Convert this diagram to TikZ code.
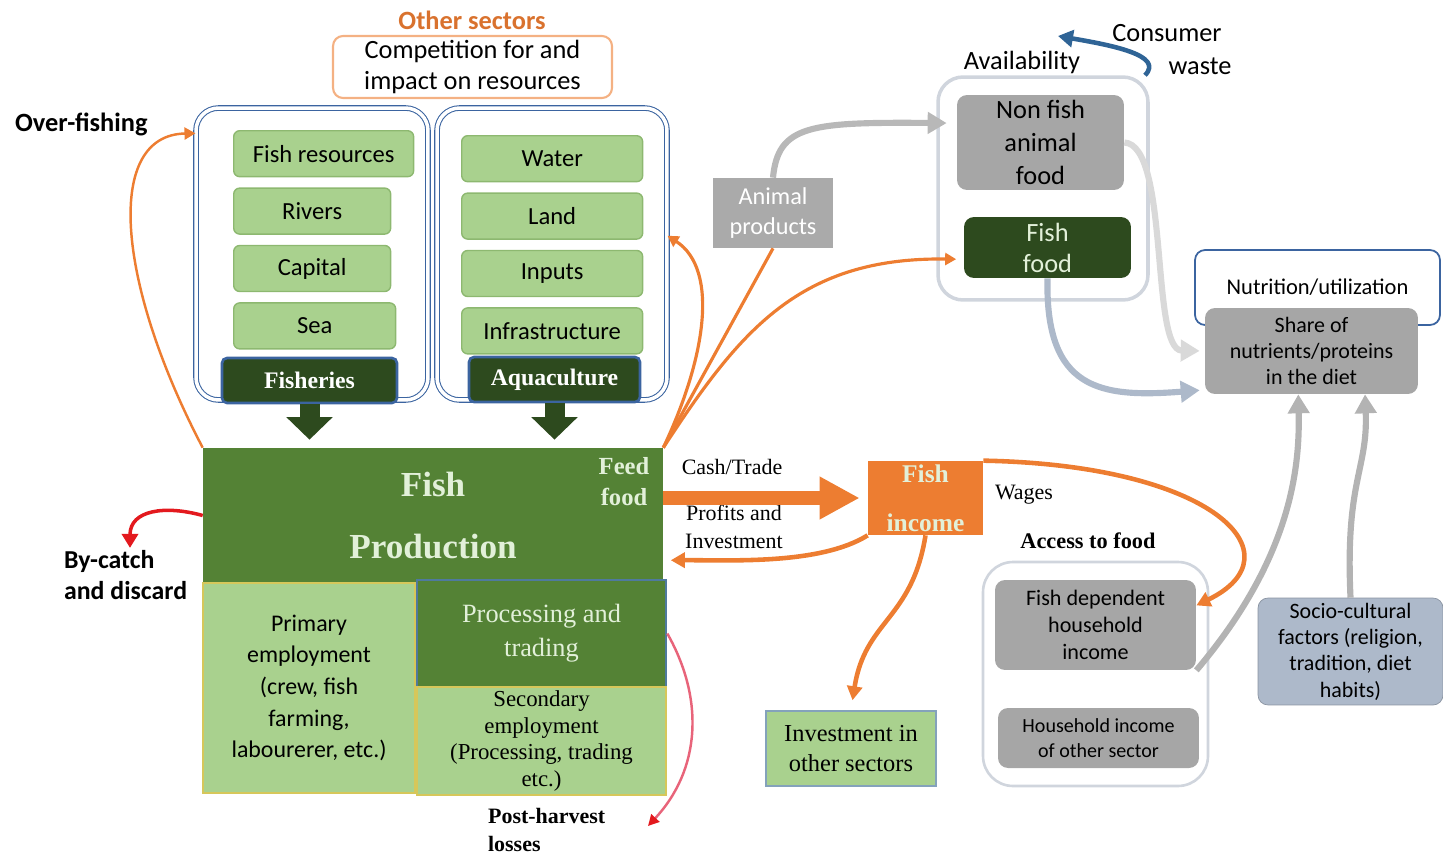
\documentclass[tikz,border=0pt]{standalone}
\usepackage{fontspec}
\setmainfont{Liberation Serif}
\setsansfont{Carlito}
\usepackage{tikz}
\usetikzlibrary{arrows.meta, positioning, calc}
\definecolor{fishlight}{HTML}{A9D18E}
\definecolor{fishline}{HTML}{8DB870}
\definecolor{fishdark}{HTML}{2D4A1E}
\definecolor{fishmid}{HTML}{548235}
\definecolor{fishblue}{HTML}{3B64A0}
\definecolor{fishorange}{HTML}{ED7D31}
\definecolor{sectororange}{HTML}{D9722E}
\definecolor{fishgray}{HTML}{A6A6A6}
\definecolor{fishpale}{HTML}{E2F0D9}
\definecolor{availgray}{HTML}{D0D5DD}
\definecolor{sociofill}{HTML}{ADB9CA}
\definecolor{fishred}{HTML}{E3191E}
\definecolor{fishpink}{HTML}{E8647A}
\definecolor{empline}{HTML}{D6C75A}
\definecolor{procline}{HTML}{4F7A9E}
\definecolor{wasteblue}{HTML}{2F6496}

\begin{document}
\begin{tikzpicture}[
    x=0.02cm, y=-0.02cm,
    res/.style={rectangle, draw=fishline, fill=fishlight, thick, rounded corners=0.12cm, minimum width=3.62cm, minimum height=0.92cm, inner sep=0pt, font=\sffamily\fontsize{14}{16}\selectfont},
    holder/.style={rectangle, draw=fishblue, double, double distance=2pt, line width=0.6pt, rounded corners=0.45cm, minimum height=5.84cm},
    sector/.style={rectangle, draw=fishblue, fill=fishdark, line width=1.5pt, rounded corners=0.1cm, minimum height=0.9cm, text=white, font=\bfseries\fontsize{13.5}{16}\selectfont},
    downarrow/.style={-{Triangle[length=0.45cm, width=0.9cm]}, line width=0.4cm, draw=fishdark, shorten >=0.16cm},
    cashtrade/.style={-{Triangle[length=0.8cm, width=0.8cm]}, line width=0.28cm, draw=fishorange, shorten >=0.16cm},
    prodbox/.style={rectangle, fill=fishmid, minimum width=9.2cm, minimum height=2.7cm, align=center, text=fishpale, font=\bfseries\fontsize{20}{35}\selectfont},
    empbox/.style={rectangle, draw=empline, fill=fishlight, line width=0.8pt, align=center, inner sep=0pt},
    procbox/.style={rectangle, draw=procline, fill=fishmid, line width=1.5pt, minimum width=4.98cm, minimum height=2.14cm, align=center, text=fishpale, font=\fontsize{15}{19.3}\selectfont},
    foodbox/.style={rectangle, fill=fishgray, rounded corners=0.2cm, align=center, inner sep=0pt},
    flow/.style={-{Triangle[length=0.28cm, width=0.3cm]}, line width=2pt, draw=fishorange},
    thinflow/.style={-{Triangle[length=0.22cm, width=0.24cm]}, line width=1.4pt, draw=fishorange},
    grayflow/.style={-{Triangle[length=0.38cm, width=0.42cm]}, line width=3.5pt, draw=#1},
    lbl/.style={inner sep=1pt, align=center, font=\fontsize{12.5}{16}\selectfont},
    sanslbl/.style={inner sep=1pt, align=center, font=\sffamily\fontsize{15}{18}\selectfont}
]
\useasboundingbox (0,0) rectangle (1443,855);

% Top: other sectors
\node[sanslbl, text=sectororange, font=\sffamily\bfseries\fontsize{15}{18}\selectfont] (othersec) at (472,20) {Other sectors};
\node[rectangle, draw=fishorange!60, line width=1.2pt, rounded corners=0.2cm, minimum width=5.58cm, minimum height=1.24cm, sanslbl] (compete) at (472.5,67) {Competition for and\\impact on resources};
\node[sanslbl, anchor=west, font=\sffamily\bfseries\fontsize{15}{18}\selectfont] (overfish) at (13,124) {Over-fishing};

% Fisheries column
\node[holder, minimum width=4.64cm] (fishcont) at (312,254) {};
\node[res, anchor=north west, minimum width=3.6cm] (fishres) at (233,130) {Fish resources};
\node[res, minimum width=3.14cm, below right=0.2cm and 0cm of fishres.south west] (rivers) {Rivers};
\node[res, minimum width=3.14cm, below right=0.2cm and 0cm of rivers.south west] (capital) {Capital};
\node[res, minimum width=3.24cm, below right=0.2cm and 0cm of capital.south west] (sea) {Sea};
\node[sector, minimum width=3.5cm] (fisheries) at (309.5,380.5) {Fisheries};

% Aquaculture column
\node[holder, minimum width=4.6cm] (aquacont) at (552,254) {};
\node[res, anchor=north west] (water) at (461,135) {Water};
\node[res, below=0.2cm of water] (land) {Land};
\node[res, below=0.2cm of land] (inputs) {Inputs};
\node[res, below=0.2cm of inputs] (infra) {Infrastructure};
\node[sector, minimum width=3.42cm] (aquaculture) at (554.5,379.5) {Aquaculture};

% Production block
\node[prodbox] (prod) at (433,515.5) {Fish\\Production};
\node[lbl, text=fishpale, font=\bfseries\fontsize{14}{17.6}\selectfont] (feed) at (624,482) {Feed\\food};
\node[empbox, minimum width=4.24cm, minimum height=4.2cm, font=\sffamily\fontsize{13.6}{18}\selectfont] (primary) at (309,688) {Primary\\employment\\(crew, fish\\farming,\\labourerer, etc.)};
\node[procbox] (proc) at (541.5,633.5) {Processing and\\trading};
\node[empbox, minimum width=4.98cm, minimum height=2.16cm, font=\fontsize{13}{15.3}\selectfont] (secondary) at (541.5,741) {Secondary\\employment\\(Processing, trading\\etc.)};
\node[sanslbl, anchor=west, align=left, inner sep=1pt, font=\sffamily\bfseries\fontsize{14.7}{18}\selectfont] (bycatch) at (62,575) {By-catch\\and discard};
\node[lbl, anchor=west, align=left, font=\bfseries\fontsize{12.5}{16}\selectfont] (postharvest) at (486,830) {Post-harvest\\losses};
\coordinate (phend) at (648,826);

% Down arrows
\draw[downarrow] (fisheries.south) -- (fisheries.south |- prod.north);
\draw[downarrow] (aquaculture.south) -- (aquaculture.south |- prod.north);

% Availability
\node[sanslbl, rectangle, fill=fishgray!95, text=white, minimum width=2.4cm, minimum height=1.4cm, font=\sffamily\fontsize{13.8}{17}\selectfont] (animal) at (773,213) {Animal\\products};
\node[rectangle, draw=availgray, line width=2pt, rounded corners=0.5cm, minimum width=4.2cm, minimum height=4.46cm] (avail) at (1043,188.5) {};
\node[sanslbl] (availlbl) at (1022,62) {Availability};
\node[foodbox, minimum width=3.34cm, minimum height=1.9cm, font=\sffamily\fontsize{15}{18.7}\selectfont] (nonfish) at (1040.5,142.5) {Non fish\\animal\\food};
\node[foodbox, fill=fishdark, text=fishpale, minimum width=3.34cm, minimum height=1.22cm, font=\sffamily\fontsize{15}{17.6}\selectfont] (fishfood) at (1047.5,247.5) {Fish\\food};
\node[sanslbl] (consumer) at (1167,33) {Consumer};
\node[sanslbl] (waste) at (1200,66) {waste};
\coordinate (wasteend) at (1058,36);

% Nutrition
\node[rectangle, draw=fishblue, line width=1pt, rounded corners=0.2cm, minimum width=4.9cm, minimum height=1.5cm, sanslbl, font=\sffamily\fontsize{12.8}{15}\selectfont] (nutrition) at (1317.5,287.5) {Nutrition/utilization};
\node[foodbox, minimum width=4.26cm, minimum height=1.72cm, font=\sffamily\fontsize{12.5}{14.7}\selectfont] (share) at (1311.5,351) {Share of\\nutrients/proteins\\in the diet};

% Income
\node[rectangle, fill=fishorange, text=fishpale, minimum width=2.3cm, minimum height=1.48cm, align=center, inner sep=0pt, font=\bfseries\fontsize{14.5}{28}\selectfont] (income) at (925.5,498) {Fish\\income};
\node[lbl] (cashlbl) at (732,467) {Cash/Trade};
\node[lbl, font=\fontsize{12.5}{15.9}\selectfont] (profitslbl) at (734,527) {Profits and\\Investment};
\node[lbl] (wageslbl) at (1024,495) {Wages};
\node[rectangle, draw=procline!70, fill=fishlight, line width=1pt, minimum width=3.4cm, minimum height=1.5cm, align=center, inner sep=0pt, font=\fontsize{13.9}{17}\selectfont] (invest) at (851,748.5) {Investment in\\other sectors};

% Access to food
\node[lbl, font=\bfseries\fontsize{12.7}{16}\selectfont] (accesslbl) at (1088,541) {Access to food};
\node[rectangle, draw=availgray, line width=1.5pt, rounded corners=0.6cm, minimum width=4.5cm, minimum height=4.48cm] (access) at (1095.5,674) {};
\node[foodbox, minimum width=4.02cm, minimum height=1.8cm, font=\sffamily\fontsize{12.6}{15.3}\selectfont] (fishdep) at (1095.5,625) {Fish dependent\\household\\income};
\node[foodbox, minimum width=4.02cm, minimum height=1.2cm, font=\sffamily\fontsize{11.4}{14}\selectfont] (otherinc) at (1098.5,738) {Household income\\of other sector};
\node[foodbox, fill=sociofill, draw=sociofill!80!black, minimum width=3.7cm, minimum height=2.14cm, font=\sffamily\fontsize{12.5}{15}\selectfont] (socio) at (1350.5,651.5) {Socio-cultural\\factors (religion,\\tradition, diet\\habits)};

% Arrows round the production block
\draw[thinflow] (prod.north west) .. controls (115,280) and (105,135) .. (fishcont.134);
\draw[-{Triangle[length=0.28cm, width=0.32cm]}, line width=2pt, draw=fishred] (prod.west) .. controls (165,505) and (130,510) .. (bycatch.north -| 130,0);
\draw[-{Triangle[length=0.22cm, width=0.22cm, color=fishred]}, line width=1.4pt, draw=fishpink] (proc.east) .. controls (705,700) and (700,770) .. (phend);

% Arrows out of Fish Production
\draw[thinflow, line width=1.8pt] (prod.north east) .. controls (705,360) and (720,270) .. (aquacont.9);
\draw[fishorange, line width=1.8pt] (prod.north east) -- (animal.south);
\draw[thinflow, line width=1.8pt, shorten >=0.15cm] (prod.north east) .. controls (740,330) and (800,257) .. (fishfood.188);
\draw[cashtrade] (prod.east |- income.west) -- (income.west);
\draw[flow, line width=2.6pt, shorten >=0.15cm] (income.south west) .. controls (820,565) and (730,560) .. (prod.-11);
\draw[flow, line width=2.6pt] (income.north east) .. controls (1215,465) and (1300,555) .. (fishdep.11);
\draw[flow, line width=2.6pt, shorten >=0.2cm] (income.south) .. controls (912,620) and (865,620) .. (invest.north);

% Arrows to the diet
\draw[grayflow=fishgray!80, shorten >=0.2cm] (animal.north) .. controls (778,125) and (810,122) .. (nonfish.167);
\draw[-{Triangle[length=0.3cm, width=0.34cm]}, line width=2.6pt, draw=wasteblue] (avail.48) .. controls (1165,55) and (1110,45) .. (wasteend);
\draw[grayflow=black!15, shorten >=0.1cm] (nonfish.east) .. controls (1170,145) and (1150,350) .. (share.west);
\draw[grayflow=sociofill, shorten >=0.1cm] (fishfood.south) .. controls (1045,390) and (1100,398) .. (share.200);
\draw[grayflow=fishgray!85] (fishdep.south east) .. controls (1290,560) and (1300,470) .. (share.-107);
\draw[grayflow=fishgray!85] (socio.north) .. controls (1345,480) and (1368,470) .. (share.-39);

\end{tikzpicture}
\end{document}
